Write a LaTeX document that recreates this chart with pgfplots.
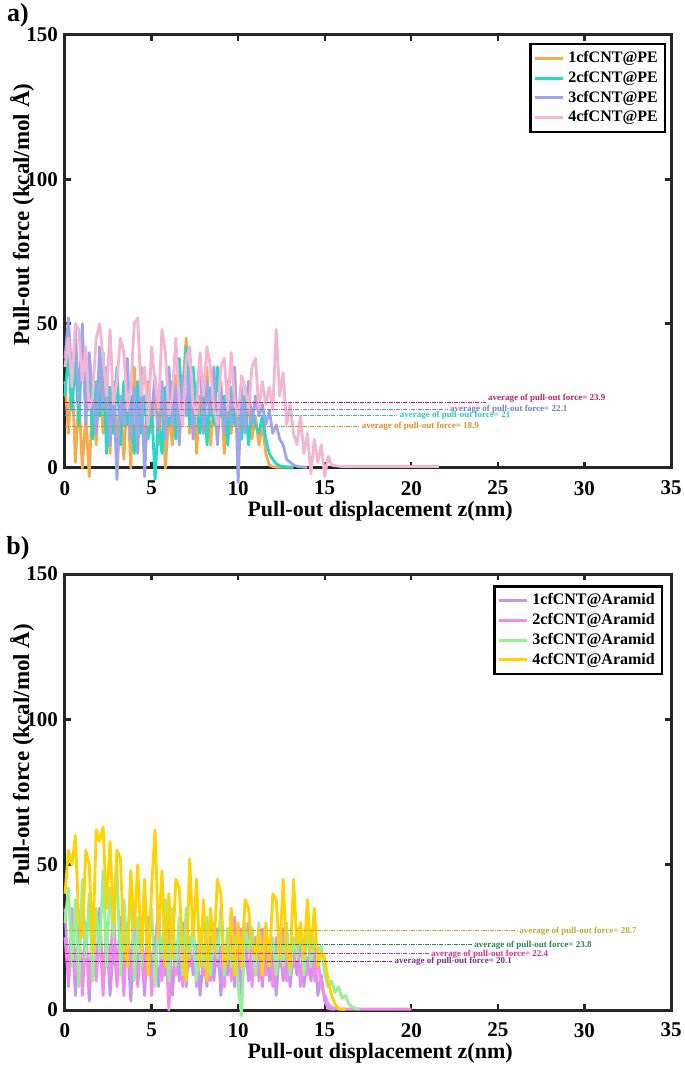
\documentclass[border=0pt]{standalone}
\usepackage{fontspec}
\setmainfont{Liberation Serif}
\usepackage{pgfplots}
\usepackage{pgfplotstable}
\pgfplotsset{compat=1.18}

\definecolor{cA1}{HTML}{F5AA50}
\definecolor{cA2}{HTML}{1EDCC8}
\definecolor{cA3}{HTML}{A0A5EB}
\definecolor{cA4}{HTML}{F5B4D2}
\definecolor{mA1}{HTML}{DC8C28}
\definecolor{mA2}{HTML}{28C8BE}
\definecolor{mA3}{HTML}{7878BE}
\definecolor{mA4}{HTML}{BE1E78}
\definecolor{cB1}{HTML}{C896F0}
\definecolor{cB2}{HTML}{F58CEB}
\definecolor{cB3}{HTML}{96F096}
\definecolor{cB4}{HTML}{FFD200}
\definecolor{mB1}{HTML}{78288C}
\definecolor{mB2}{HTML}{DC28A0}
\definecolor{mB3}{HTML}{28825A}
\definecolor{mB4}{HTML}{BEAA28}
\definecolor{axgray}{HTML}{262626}

% panel a: pull-out force of cfCNT in PE
\pgfplotstableread{
x s1 s2 s3 s4
0.0 30 25 38 35
0.2 12 40 52 45
0.4 35 20 30 28
0.6 2 38 48 50
0.8 25 15 22 48
1.0 0 45 50 30
1.2 18 22 15 42
1.4 -3 35 40 20
1.6 28 10 25 25
1.8 8 30 12 45
2.0 32 18 42 50
2.2 12 40 20 38
2.4 25 5 35 25
2.6 5 28 8 48
2.8 30 12 30 22
3.0 10 35 -4 30
3.2 22 8 25 45
3.4 3 30 15 40
3.6 28 15 38 20
3.8 0 25 10 28
4.0 35 5 28 50
4.2 15 30 5 52
4.4 22 12 35 25
4.6 5 25 -3 35
4.8 30 10 25 15
5.0 12 22 18 42
5.2 28 -4 32 30
5.4 8 18 12 20
5.6 25 5 30 48
5.8 0 28 10 40
6.0 20 15 35 18
6.2 8 30 15 25
6.4 32 10 28 45
6.6 10 38 8 22
6.8 28 20 32 15
7.0 45 42 18 38
7.2 12 15 35 42
7.4 30 35 10 22
7.6 5 20 25 18
7.8 25 12 38 40
8.0 15 30 12 25
8.2 35 8 30 42
8.4 8 28 18 35
8.6 22 15 35 20
8.8 10 35 8 15
9.0 30 18 28 35
9.2 5 25 12 38
9.4 25 8 30 20
9.6 12 28 15 40
9.8 32 15 35 22
10.0 8 22 -5 18
10.2 20 10 28 32
10.4 15 25 12 28
10.6 22 8 30 20
10.8 10 20 15 35
11.0 18 15 25 38
11.2 8 12 18 20
11.4 15 18 22 30
11.6 5 10 15 22
11.8 1 5 20 28
12.0 0.5 3 12 20
12.2 0.3 1.5 15 48
12.4 0.3 0.8 10 25
12.6 0.3 0.5 8 33
12.8 0.3 0.4 3 15
13.0 0.3 0.3 2 22
13.2 nan 0.3 1.0 12
13.4 nan nan 0.6 8
13.6 nan nan 0.4 18
13.8 nan nan 0.3 5
14.0 nan nan 0.3 12
14.2 nan nan nan -2
14.4 nan nan nan 10
14.6 nan nan nan 2
14.8 nan nan nan 8
15.0 nan nan nan -3
15.2 nan nan nan 4
15.4 nan nan nan 1
15.6 nan nan nan 0.8
16.0 nan nan nan 0.5
21.6 nan nan nan 0.5
}\dataA

% panel b: pull-out force of cfCNT in Aramid
\pgfplotstableread{
x s1 s2 s3 s4
0.0 35 25 30 40
0.2 8 10 42 55
0.4 28 35 15 50
0.6 5 12 38 60
0.8 22 30 8 30
1.0 10 5 45 25
1.2 30 25 18 55
1.4 3 8 40 50
1.6 25 32 10 20
1.8 12 10 35 62
2.0 35 28 20 58
2.2 8 5 48 63
2.4 28 30 15 35
2.6 5 12 42 58
2.8 22 38 25 30
3.0 10 8 50 55
3.2 32 25 12 52
3.4 15 5 38 22
3.6 25 30 20 15
3.8 3 12 45 48
4.0 28 35 10 28
4.2 10 8 32 50
4.4 22 28 15 20
4.6 5 10 40 45
4.8 30 32 22 12
5.0 12 5 35 42
5.2 25 22 8 62
5.4 8 35 30 25
5.6 20 10 18 48
5.8 12 25 38 15
6.0 28 0 10 40
6.2 5 30 35 18
6.4 22 12 15 45
6.6 10 28 32 42
6.8 30 8 12 20
7.0 8 25 35 10
7.2 25 15 18 52
7.4 12 30 30 25
7.6 22 8 10 45
7.8 5 28 28 15
8.0 18 12 15 38
8.2 8 25 32 10
8.4 25 10 12 35
8.6 10 30 30 20
8.8 28 15 18 45
9.0 5 22 35 40
9.2 20 8 12 15
9.4 12 28 28 18
9.6 30 10 15 35
9.8 8 32 25 12
10.0 22 12 8 30
10.2 5 28 -2 15
10.4 25 15 30 38
10.6 10 30 20 35
10.8 28 8 28 22
11.0 12 25 12 18
11.2 22 10 30 28
11.4 8 28 15 12
11.6 25 12 28 30
11.8 10 22 18 15
12.0 20 8 25 40
12.2 5 25 12 38
12.4 22 15 28 18
12.6 10 28 15 45
12.8 25 10 30 20
13.0 8 22 12 15
13.2 20 15 25 45
13.4 12 28 18 22
13.6 25 8 30 30
13.8 8 22 12 18
14.0 18 12 28 38
14.2 10 25 15 20
14.4 22 10 25 35
14.6 5 18 20 15
14.8 12 8 22 20
15.0 3 5 12 18
15.2 0.5 2 8 10
15.4 0.3 1 10 5
15.6 0.3 0.5 6 2
15.8 nan 0.3 8 0.5
16.0 nan 0.3 4 0.3
16.2 nan 0.3 5 0.3
16.4 nan 0.3 2 nan
16.6 nan 0.3 1 nan
16.8 nan 0.3 0.5 nan
17.0 nan 0.3 0.3 nan
20.0 nan 0.3 nan nan
}\dataB

\tikzset{
  avgtxt/.style={font=\fontsize{4.5}{5}\selectfont\bfseries, anchor=west,
    inner sep=1pt},
}
\pgfplotsset{
  pullout/.style={
    scale only axis, width=303pt,
    xmin=0, xmax=35, ymin=0, ymax=150,
    xtick={0,5,...,35}, ytick={0,50,100,150},
    tick align=inside, major tick length=3pt,
    every tick/.style={axgray, line width=1.2pt},
    axis line style={axgray, line width=1.5pt},
    clip=false,
    /pgf/number format/assume math mode=true,
    tick label style={font=\fontsize{10.5}{12}\selectfont\bfseries},
    xticklabel style={yshift=-3pt},
    xlabel={Pull-out displacement z(nm)},
    ylabel={Pull-out force (kcal/mol Å)},
    xlabel style={font=\fontsize{11}{13}\selectfont\bfseries,
      at={(axis description cs:0.52,0)}, anchor=base},
    ylabel style={font=\fontsize{11.5}{13}\selectfont\bfseries,
      at={(axis description cs:-0.071,0.585)}, anchor=center},
    legend cell align=left,
    legend image code/.code={\draw[#1, line width=1.5pt] (0pt,0pt) -- (14pt,0pt);},
    legend style={draw=black, line width=1.3pt, inner sep=1.5pt,
      font=\fontsize{8}{10}\selectfont\bfseries, row sep=-1.2pt},
    every axis plot/.append style={line width=1.4pt, line join=round, mark=none},
  },
  avg/.style={line width=0.45pt, forget plot,
    dash pattern=on 2pt off 0.6pt on 0.4pt off 0.6pt},
}

\begin{document}
\begin{tikzpicture}
\begin{axis}[pullout, height=216.5pt, at={(0pt,0pt)}, anchor=south west,
  xlabel style={yshift=-24.5pt},
  legend style={at={(0.992,0.982)}, anchor=north east}]
\addplot[cA1] table[x=x, y=s1] {\dataA};
\addlegendentry{1cfCNT@PE}
\addplot[cA2] table[x=x, y=s2] {\dataA};
\addlegendentry{2cfCNT@PE}
\addplot[cA3] table[x=x, y=s3] {\dataA};
\addlegendentry{3cfCNT@PE}
\addplot[cA4] table[x=x, y=s4] {\dataA};
\addlegendentry{4cfCNT@PE}
\addplot[mA4, avg] coordinates {(0,22.6) (24.3,22.6)}
  node[pos=1, avgtxt, text=mA4, yshift=2pt] {average of pull-out force= 23.9};
\addplot[mA3, avg] coordinates {(0,20.4) (22.1,20.4)}
  node[pos=1, avgtxt, text=mA3] {average of pull-out force= 22.1};
\addplot[mA2, avg] coordinates {(0,18.1) (19.2,18.1)}
  node[pos=1, avgtxt, text=mA2] {average of pull-out force= 21};
\addplot[mA1, avg] coordinates {(0,14.5) (17.0,14.5)}
  node[pos=1, avgtxt, text=mA1] {average of pull-out force= 18.9};
\end{axis}
\node[font=\fontsize{13}{15}\selectfont\bfseries] at (-23.5pt,226.5pt) {a)};

\begin{axis}[pullout, height=218pt, at={(0pt,-271pt)}, anchor=south west,
  xlabel style={yshift=-24pt},
  legend style={at={(0.987,0.975)}, anchor=north east}]
\addplot[cB1] table[x=x, y=s1] {\dataB};
\addlegendentry{1cfCNT@Aramid}
\addplot[cB2] table[x=x, y=s2] {\dataB};
\addlegendentry{2cfCNT@Aramid}
\addplot[cB3] table[x=x, y=s3] {\dataB};
\addlegendentry{3cfCNT@Aramid}
\addplot[cB4] table[x=x, y=s4] {\dataB};
\addlegendentry{4cfCNT@Aramid}
\addplot[mB4, avg] coordinates {(0,27.2) (26.1,27.2)}
  node[pos=1, avgtxt, text=mB4] {average of pull-out force= 28.7};
\addplot[mB3, avg] coordinates {(0,22.4) (23.5,22.4)}
  node[pos=1, avgtxt, text=mB3] {average of pull-out force= 23.8};
\addplot[mB2, avg] coordinates {(0,19.3) (21.0,19.3)}
  node[pos=1, avgtxt, text=mB2] {average of pull-out force= 22.4};
\addplot[mB1, avg] coordinates {(0,16.6) (18.9,16.6)}
  node[pos=1, avgtxt, text=mB1] {average of pull-out force= 20.1};
\end{axis}
\node[font=\fontsize{13}{15}\selectfont\bfseries] at (-23.5pt,-40pt) {b)};

\pgfresetboundingbox
\path[use as bounding box] (-32.5pt,-298.5pt) rectangle (310pt,234pt);
\end{tikzpicture}
\end{document}
